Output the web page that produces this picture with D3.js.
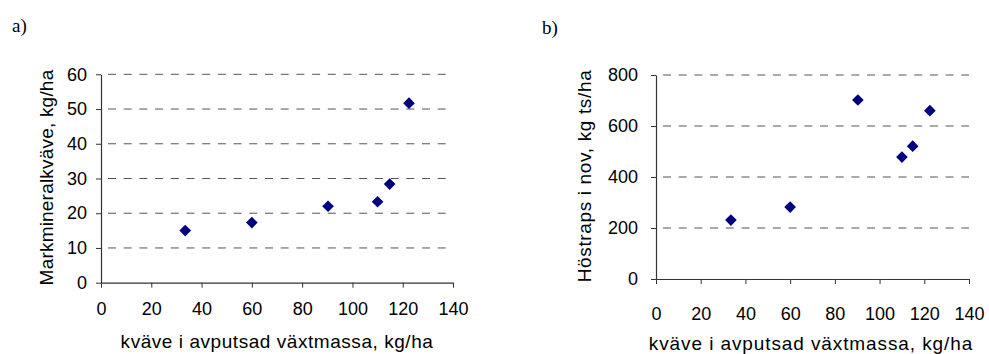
<!DOCTYPE html>
<html>
<head>
<meta charset="utf-8">
<script src="https://cdn.jsdelivr.net/npm/d3@7"></script>
<style>
  body { margin: 0; background: #fff; }
  svg { display: block; }
  .tick text { font-family: "Liberation Sans", Arial, sans-serif; font-size: 18px; fill: #000; }
  .title { font-family: "Liberation Sans", Arial, sans-serif; font-size: 19px; fill: #000; }
  .panel { font-family: "Liberation Serif", "Times New Roman", serif; font-size: 19px; fill: #000; }
</style>
</head>
<body>
<svg width="989" height="354"></svg>
<script>
// data
const nPlant = [33.5, 60, 90.3, 110, 114.8, 122.5];      // kväve i avputsad växtmassa, kg/ha
const soilN = [15, 17.3, 22, 23.3, 28.4, 51.7];          // Markmineralkväve, kg/ha
const rapeDM = [231, 282, 702, 478, 521, 660];           // Höstraps i nov, kg ts/ha

const xTicks = [0, 20, 40, 60, 80, 100, 120, 140];
const yTicksA = [0, 10, 20, 30, 40, 50, 60];
const yTicksB = [0, 200, 400, 600, 800];

const xTitle = 'kväve i avputsad växtmassa, kg/ha';

const svg = d3.select('svg');

// one panel = one scatter plot
function drawPanel(cfg) {
    const g = svg.append('g');

    let x = d3.scaleLinear().domain([0, 140]).range([cfg.left, cfg.right]);
    let y = d3.scaleLinear().domain(cfg.yDomain).range([cfg.bottom, cfg.top]);

    // dashed gridlines (not at 0)
    g.append('g').selectAll('line')
        .data(cfg.yTicks.filter(d => d > 0))
        .join('line')
        .attr('x1', cfg.left)
        .attr('x2', cfg.right)
        .attr('y1', d => y(d))
        .attr('y2', d => y(d))
        .attr('stroke', '#555')
        .attr('stroke-width', 1)
        .attr('stroke-dasharray', '8,7.7')
        .attr('stroke-dashoffset', -7);

    // y axis
    let yAxis = g.append('g')
        .attr('transform', `translate(${cfg.left},0)`)
        .call(d3.axisLeft(y).tickValues(cfg.yTicks).tickSize(5).tickSizeOuter(0).tickPadding(cfg.yPad));
    // x axis
    let xAxis = g.append('g')
        .attr('transform', `translate(0,${cfg.bottom})`)
        .call(d3.axisBottom(x).tickValues(xTicks).tickSize(5).tickSizeOuter(0).tickPadding(cfg.xPad));

    [yAxis, xAxis].forEach(a => {
        a.select('.domain').attr('stroke', '#333').attr('stroke-width', 1.2);
        a.selectAll('.tick line').attr('stroke', '#333');
    });

    // diamonds
    g.append('g').selectAll('path')
        .data(nPlant.map((d, i) => [d, cfg.values[i]]))
        .join('path')
        .attr('d', d3.symbol(d3.symbolSquare, 68))
        .attr('transform', d => `translate(${x(d[0])},${y(d[1])}) rotate(45)`)
        .attr('fill', '#000080');

    // axis titles
    g.append('text').classed('title', true)
        .attr('transform', `translate(${cfg.yTitleX},${(cfg.top + cfg.bottom) / 2 - 1}) rotate(-90)`)
        .attr('text-anchor', 'middle')
        .style('letter-spacing', cfg.spacingY + 'px')
        .text(cfg.yTitle);
    g.append('text').classed('title', true)
        .attr('x', cfg.xTitleX)
        .attr('y', cfg.xTitleY)
        .attr('text-anchor', 'middle')
        .style('letter-spacing', cfg.spacingX + 'px')
        .text(xTitle);

    g.append('text').classed('panel', true)
        .attr('x', cfg.labelX)
        .attr('y', cfg.labelY)
        .text(cfg.label);
}

drawPanel({
    label: 'a)', labelX: 12, labelY: 32,
    left: 101, right: 453, top: 74.3, bottom: 282.7,
    yDomain: [0, 60], yTicks: yTicksA, values: soilN,
    yPad: 9, xPad: 15,
    yTitle: 'Markmineralkväve, kg/ha', yTitleX: 53, spacingY: 0.2,
    xTitleX: 277, xTitleY: 348, spacingX: 0.55
});

drawPanel({
    label: 'b)', labelX: 542, labelY: 34,
    left: 656, right: 969, top: 75, bottom: 279,
    yDomain: [0, 800], yTicks: yTicksB, values: rapeDM,
    yPad: 13, xPad: 23,
    yTitle: 'Höstraps i nov, kg ts/ha', yTitleX: 591, spacingY: 0.65,
    xTitleX: 811, xTitleY: 350, spacingX: 0.9
});
</script>
</body>
</html>
